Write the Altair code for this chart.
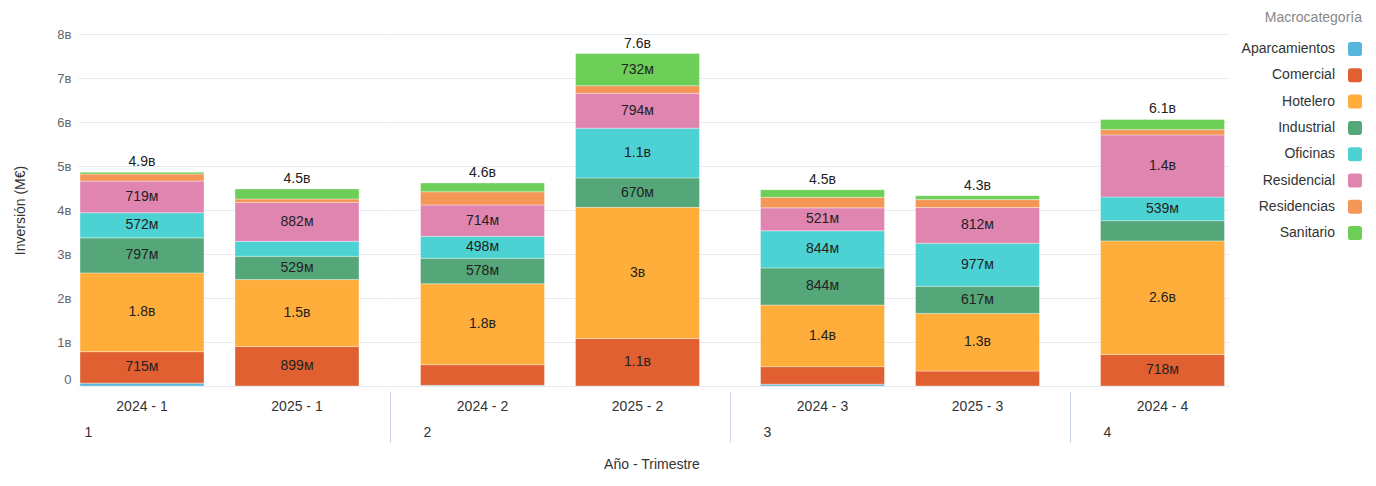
import altair as alt
import pandas as pd

periodos = ["2024 - 1", "2025 - 1", "2024 - 2", "2025 - 2", "2024 - 3", "2025 - 3", "2024 - 4"]
trimestres = ["1", "1", "2", "2", "3", "3", "4"]
categorias = ["Aparcamientos", "Comercial", "Hotelero", "Industrial", "Oficinas",
              "Residencial", "Residencias", "Sanitario"]
colores = ["#55b7dd", "#e06031", "#ffad3b", "#55a77a", "#4dd2d4", "#e085b0", "#f39656", "#6dcf57"]

# Inversión en millones de euros, por periodo (mismo orden que "periodos")
aparcamientos = [65, 0, 15, 0, 40, 0, 0]
comercial = [715, 899, 470, 1080, 400, 340, 718]
hotelero = [1790, 1520, 1840, 2980, 1400, 1310, 2580]
industrial = [797, 529, 578, 670, 844, 617, 460]
oficinas = [572, 340, 498, 1130, 844, 977, 539]
residencial = [719, 882, 714, 794, 521, 812, 1410]
residencias = [160, 80, 300, 170, 240, 180, 120]
sanitario = [40, 230, 200, 732, 170, 90, 230]

series = [aparcamientos, comercial, hotelero, industrial, oficinas, residencial, residencias, sanitario]

rows = []
for i, (p, t) in enumerate(zip(periodos, trimestres)):
    for j, c in enumerate(categorias):
        v = series[j][i]
        if v > 0:
            rows.append({"periodo": p, "trimestre": t, "categoria": c, "orden": j, "valor": v})
df = pd.DataFrame(rows)

FONT = "Liberation Sans"
H = 352
FS = 14
FMT = "datum.{f} >= 1000 ? format(datum.{f} / 1000, '.1~f') + 'ʙ' : format(datum.{f}, '.0f') + 'ᴍ'"
ROUNDSQ = "M-0.6,-1H0.6Q1,-1 1,-0.6V0.6Q1,1 0.6,1H-0.6Q-1,1 -1,0.6V-0.6Q-1,-1 -0.6,-1Z"

color = alt.Color(
    "categoria:N",
    scale=alt.Scale(domain=categorias, range=colores),
    legend=alt.Legend(
        title="Macrocategoría", orient="none", legendX=1187, legendY=-23,
        labelAlign="right", labelOffset={"expr": "-27"}, symbolType=ROUNDSQ, symbolSize=196,
        symbolStrokeWidth=0, labelFont=FONT, labelFontSize=FS, labelColor="#333",
        titleFont=FONT, titleFontSize=FS, titleFontWeight="normal", titleColor="#888",
        titleAlign="right", titleAnchor="end", rowPadding=12.3, padding=0, titlePadding=17,
    ),
)

yvals = list(range(0, 9000, 1000))


def panel(q, width, po, align, title_x, first):
    xenc = alt.X(
        "periodo:N", sort=periodos,
        scale=alt.Scale(paddingInner=0.2, paddingOuter=po, align=align),
        axis=alt.Axis(
            title=q, labelAngle=0, ticks=False, domain=False, labelPadding=13,
            labelFont=FONT, labelFontSize=FS, labelColor="#333",
            titleX=title_x, titleY=46, titleAlign="left", titleBaseline="middle",
            titleFont=FONT, titleFontSize=FS, titleFontWeight="normal", titleColor="#333",
        ),
    )
    if first:
        yaxis = alt.Axis(
            title="Inversión (M€)", values=yvals, grid=True, gridColor="#e6e9f0",
            ticks=False, domain=False, labelPadding=7, labelFont=FONT, labelFontSize=13,
            labelColor="#666",
            labelExpr="datum.value == 0 ? '0' : (datum.value / 1000) + 'ʙ'",
            labelBaseline={"condition": {"test": "datum.value == 0", "value": "bottom"}, "value": "middle"},
            titleFont=FONT, titleFontSize=FS, titleFontWeight="normal", titleColor="#333",
            titlePadding=29,
        )
    else:
        yaxis = alt.Axis(
            title=None, values=yvals, grid=True, gridColor="#e6e9f0", labels=False,
            ticks=False, domain=False, minExtent=0,
        )
    yscale = alt.Scale(domain=[0, 8000], nice=False, zero=True)
    base = alt.Chart(df).transform_filter(alt.datum.trimestre == q)
    stacked = base.transform_stack(
        stack="valor", groupby=["periodo"], as_=["v0", "v1"],
        sort=[alt.SortField("orden", order="ascending")],
    ).transform_calculate(
        mid="(datum.v0 + datum.v1) / 2", etiqueta=FMT.format(f="valor")
    )
    bars = stacked.mark_bar(stroke="white", strokeWidth=0.6, strokeOpacity=0.6).encode(
        x=xenc, y=alt.Y("v0:Q", scale=yscale, axis=yaxis), y2="v1:Q", color=color,
    )
    labels = stacked.transform_filter(alt.datum.valor >= 490).mark_text(
        font=FONT, fontSize=FS, color="#222"
    ).encode(x=xenc, y=alt.Y("mid:Q", scale=yscale, axis=yaxis), text="etiqueta:N")
    totals = base.transform_aggregate(
        total="sum(valor)", groupby=["periodo"]
    ).transform_calculate(etiqueta=FMT.format(f="total")).mark_text(
        font=FONT, fontSize=FS, color="#222", baseline="bottom", dy=-3
    ).encode(x=xenc, y=alt.Y("total:Q", scale=yscale, axis=yaxis), text="etiqueta:N")
    layers = [bars, labels, totals]
    if not first:
        sep = alt.Chart(pd.DataFrame({"s": [0]})).mark_rect(color="#ccd6eb").encode(
            x=alt.value(0), x2=alt.value(1), y=alt.value(H + 6), y2=alt.value(H + 57)
        )
        layers.append(sep)
    return alt.layer(*layers).properties(width=width, height=H)


p1 = panel("1", 311.5, 0.1048, 0.0615, 6, True)
p2 = panel("2", 340, 0.1968, 0.5, 33, False)
p3 = panel("3", 340, 0.1968, 0.5, 33, False)
p4 = panel("4", 158.5, 0.1113, 0.884, 33, False)

chart = alt.hconcat(p1, p2, p3, p4, spacing=0, bounds="flush").resolve_scale(
    color="shared"
).properties(
    title=alt.TitleParams(
        "Año - Trimestre", orient="bottom", anchor="middle", font=FONT, fontSize=FS,
        fontWeight="normal", color="#333", offset=15, dx=-36,
    ),
    padding={"left": 5, "top": 3, "right": 5, "bottom": 5},
).configure(background="white").configure_view(stroke=None)

chart.save("out.html", embed_options={"renderer": "svg", "actions": False})
